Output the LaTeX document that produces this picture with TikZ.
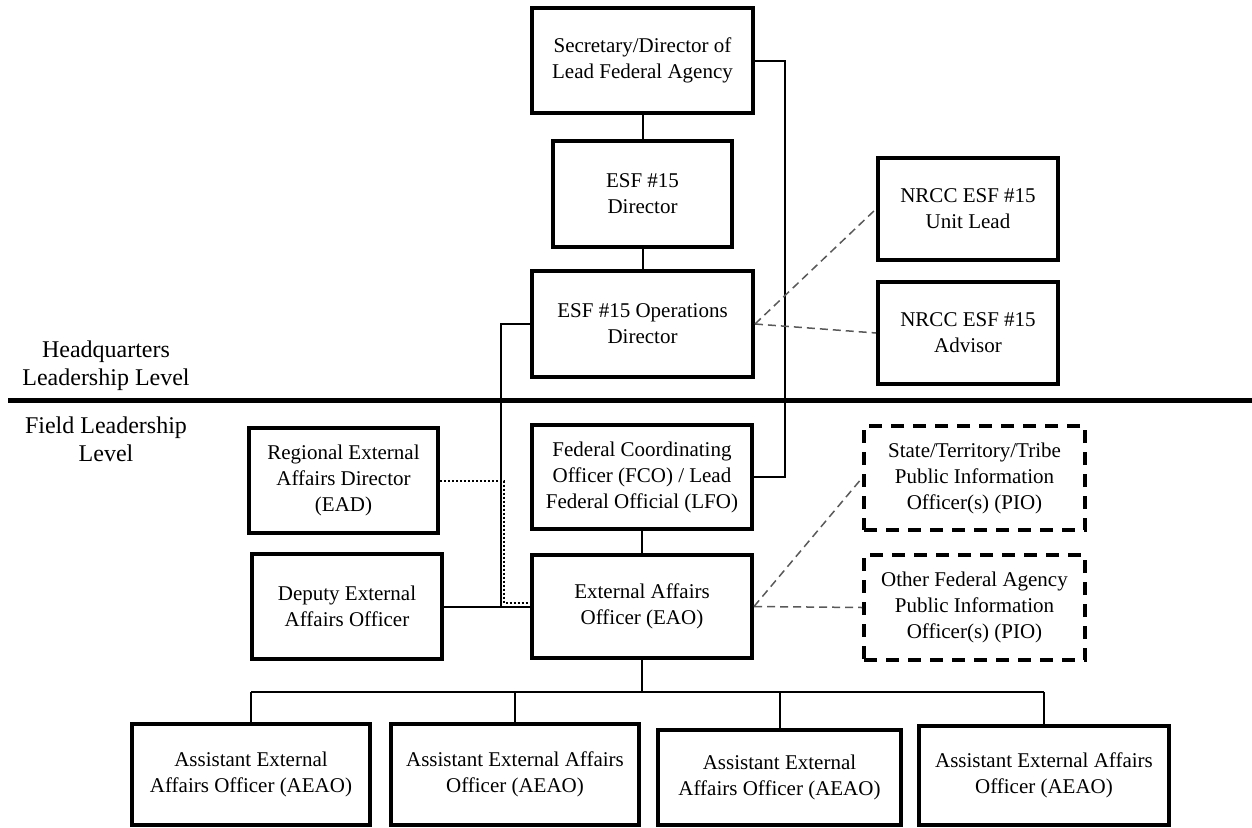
\documentclass[tikz,border=0pt]{standalone}
\usepackage{fontspec}
\setmainfont{Liberation Serif}
\begin{document}
\begin{tikzpicture}[x=1pt,y=-1pt,
  box/.style={draw, line width=4pt, align=center, inner sep=0pt, font=\fontsize{21}{26}\selectfont},
  dbox/.style={box, dash pattern=on 13pt off 9pt},
  conn/.style={line width=2pt},
  gdash/.style={draw=black!65, line width=1.5pt, dash pattern=on 8pt off 5pt},
  dotline/.style={line width=2pt, dash pattern=on 2pt off 2pt},
  lvl/.style={align=center, font=\fontsize{24}{28}\selectfont}]
\useasboundingbox (0,0) rectangle (1252,827);
% separator
\coordinate (sepL) at (8,400);
\coordinate (sepR) at (1252,400);
\draw[line width=5pt] (sepL) -- (sepR);
\node[lvl] (hq) at (106,366) {Headquarters\\Leadership Level};
\node[lvl] (fl) at (106,439) {Field Leadership\\Level};
% boxes
\node[box, minimum width=221, minimum height=105] (sec) at (642.5,60.5) {Secretary/Director of\\Lead Federal Agency};
\node[box, minimum width=179, minimum height=106] (esfd) at (642.5,194) {ESF \#15\\Director};
\node[box, minimum width=221, minimum height=106] (ops) at (642.5,324) {ESF \#15 Operations\\Director};
\node[box, minimum width=220, minimum height=104] (fco) at (642,477) {Federal Coordinating\\Officer (FCO) / Lead\\Federal Official (LFO)};
\node[box, minimum width=220, minimum height=103] (eao) at (642,606.5) {External Affairs\\Officer (EAO)};
\node[box, minimum width=189, minimum height=105] (reg) at (343.5,480.5) {Regional External\\Affairs Director\\(EAD)};
\node[box, minimum width=190, minimum height=105] (dep) at (347,606.5) {Deputy External\\Affairs Officer};
\node[box, minimum width=180, minimum height=102] (unit) at (968,209) {NRCC ESF \#15\\Unit Lead};
\node[box, minimum width=180, minimum height=102] (adv) at (968,333) {NRCC ESF \#15\\Advisor};
\node[dbox, minimum width=221, minimum height=104] (state) at (974.5,478) {State/Territory/Tribe\\Public Information\\Officer(s) (PIO)};
\node[dbox, minimum width=221, minimum height=105] (other) at (974.5,607.5) {Other Federal Agency\\Public Information\\Officer(s) (PIO)};
\node[box, minimum width=238, minimum height=101] (a1) at (251,774.5) {Assistant External\\Affairs Officer (AEAO)};
\node[box, minimum width=248, minimum height=101] (a2) at (515,774.5) {Assistant External Affairs\\Officer (AEAO)};
\node[box, minimum width=243, minimum height=95] (a3) at (779.5,777.5) {Assistant External\\Affairs Officer (AEAO)};
\node[box, minimum width=250, minimum height=99] (a4) at (1044,775.5) {Assistant External Affairs\\Officer (AEAO)};
% solid connectors
\draw[conn] (sec.south) -- (esfd.north);
\draw[conn] (esfd.south) -- (ops.north);
\draw[conn] (fco.south) -- (eao.north);
\draw[conn] (sec.east) -- ++(30,0) |- (fco.east);
\draw[conn] (dep.east) -- (eao.west);
\coordinate (j) at (501,606.5);
\draw[conn] (ops.west) -| (j);
% dotted
\coordinate (d1) at (504,603);
\draw[dotline] (reg.east) -| (d1) -- (d1 -| eao.west);
% gray dashed
\draw[gdash] (ops.east) -- (unit.west);
\draw[gdash] (ops.east) -- (adv.west);
\draw[gdash] (eao.east) -- (state.west);
\draw[gdash] (eao.east) -- (other.west);
% bus
\coordinate (bus) at (643,692);
\draw[conn] (eao.south) -- (eao.south |- bus);
\draw[conn] (a1.north |- bus) -- (a4.north |- bus);
\draw[conn] (a1.north) -- (a1.north |- bus);
\draw[conn] (a2.north) -- (a2.north |- bus);
\draw[conn] (a3.north) -- (a3.north |- bus);
\draw[conn] (a4.north) -- (a4.north |- bus);
\end{tikzpicture}
\end{document}
